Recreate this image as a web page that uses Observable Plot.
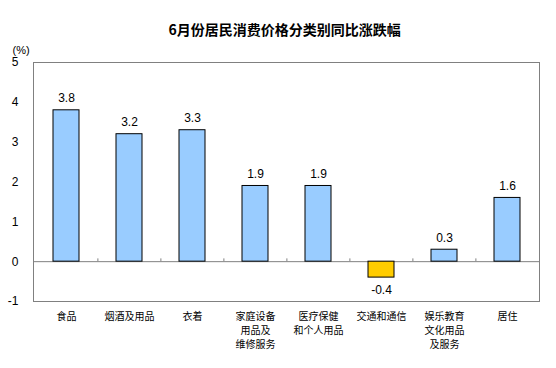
<!DOCTYPE html>
<html><head><meta charset="utf-8">
<script src="https://cdn.jsdelivr.net/npm/d3@7"></script>
<script src="https://cdn.jsdelivr.net/npm/@observablehq/plot@0.6"></script>
<style>body{margin:0;background:#fff;} svg{display:block;}</style>
</head><body><div id="chart"></div>
<script>
const categories = ["食品","烟酒及用品","衣着","家庭设备\n用品及\n维修服务","医疗保健\n和个人用品","交通和通信","娱乐教育\n文化用品\n及服务","居住"];
const values = [3.8, 3.2, 3.3, 1.9, 1.9, -0.4, 0.3, 1.6];
const yTicks = [-1, 0, 1, 2, 3, 4, 5];
const title = "6月份居民消费价格分类别同比涨跌幅";
const unit = "(%)";

const data = categories.map((c, i) => ({cat: c, v: values[i]}));
const pos = data.filter(d => d.v >= 0);
const neg = data.filter(d => d.v < 0);
const step = (556 - 33 - 17) / categories.length;

const chart = Plot.plot({
  width: 556, height: 368,
  marginLeft: 33, marginRight: 17, marginTop: 62, marginBottom: 67,
  style: {fontFamily: "'Liberation Sans', Arial, sans-serif", fontSize: "12px", background: "#fff", overflow: "visible"},
  x: {domain: categories, paddingInner: 0.59, paddingOuter: 0.295},
  y: {domain: [-1, 5]},
  marks: [
    Plot.frame({stroke: "#808080"}),
    Plot.axisY({ticks: yTicks, tickFormat: d => String(d), tickSize: 0, tickPadding: 15, fontSize: 12, fill: "#000", label: null}),
    Plot.axisX({tickSize: 0, tickPadding: 9, fontSize: 10, lineHeight: 1.4, fill: "#000", label: null,
      fontFamily: "'Noto Sans CJK SC', sans-serif"}),
    Plot.ruleY([0], {stroke: "#808080"}),
    Plot.ruleX(categories.slice(1), {x: d => d, y1: 0, y2: 0.07, dx: -step / 2, stroke: "#808080"}),
    Plot.barY(data, {x: "cat", y: "v", fill: d => d.v < 0 ? "#FFCC00" : "#99CCFF", stroke: "#000", strokeWidth: 1}),
    Plot.text(pos, {x: "cat", y: "v", text: d => d.v.toFixed(1), lineAnchor: "bottom", dy: -8, fontSize: 12, fill: "#000"}),
    Plot.text(neg, {x: "cat", y: "v", text: d => d.v.toFixed(1), lineAnchor: "top", dy: 8, fontSize: 12, fill: "#000"}),
    Plot.text([title], {frameAnchor: "top", text: d => d, dy: -37, dx: -2, fontSize: 14, fontWeight: "bold", fill: "#000",
      fontFamily: "'Noto Sans CJK SC', sans-serif"}),
    Plot.text([unit], {frameAnchor: "top-left", text: d => d, dx: -21, dy: -16, textAnchor: "start", fontSize: 11, fill: "#000"})
  ]
});
document.getElementById("chart").appendChild(chart);
</script></body></html>
